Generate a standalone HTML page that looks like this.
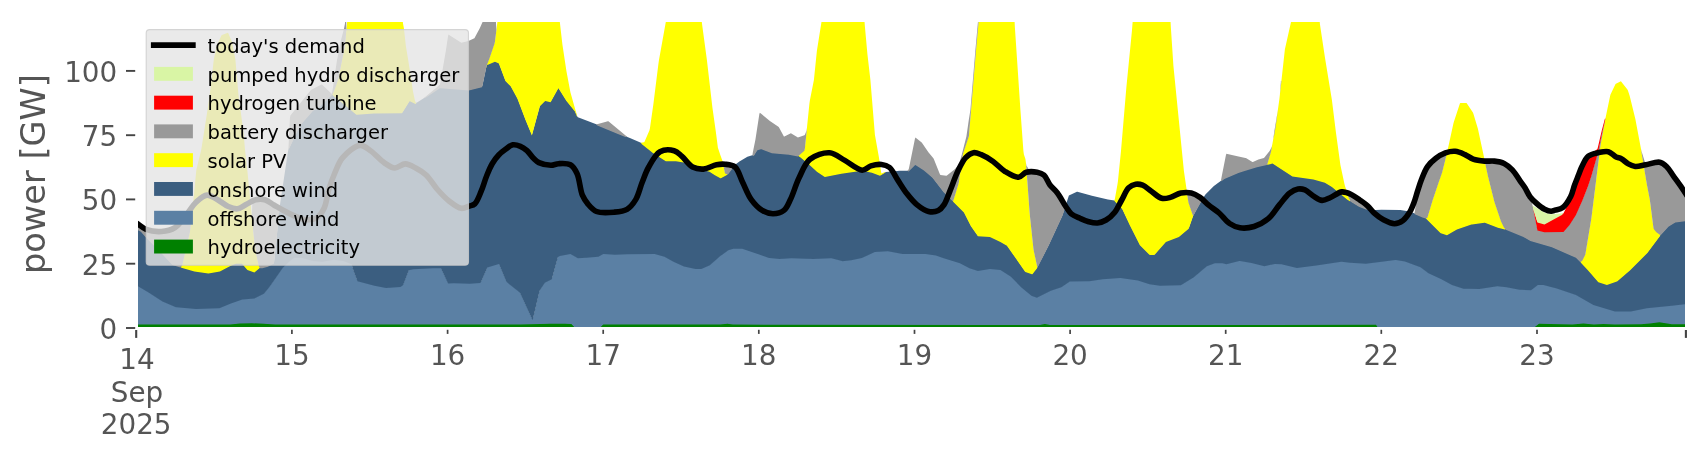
<!DOCTYPE html>
<html><head><meta charset="utf-8"><title>power</title>
<style>html,body{margin:0;padding:0;background:#fff;width:1706px;height:460px;overflow:hidden}svg{display:block;will-change:transform}</style>
</head><body>
<svg width="1706" height="460" viewBox="0 0 1706 460" font-family="'DejaVu Sans', 'Liberation Sans', sans-serif">
<defs><clipPath id="pa"><rect x="137.9" y="21.9" width="1547.2" height="305.05"/></clipPath></defs>
<rect width="1706" height="460" fill="#ffffff"/>
<g clip-path="url(#pa)">
<g fill="#008000"><polygon points="137.40,323.80 229.90,323.70 239.90,322.81 251.90,322.50 263.90,322.90 275.40,323.70 519.90,323.80 549.90,323.00 564.90,322.90 571.40,323.30 575.40,327.40 575.90,327.50 575.90,327.50 137.40,327.50"/><polygon points="599.40,327.50 599.90,327.18 602.90,324.01 603.40,323.80 719.90,323.80 727.40,323.00 732.90,323.79 733.40,323.80 999.90,324.30 1039.90,324.20 1044.90,323.22 1049.90,324.18 1050.40,324.20 1119.90,324.30 1375.90,324.00 1376.40,324.56 1378.40,327.36 1378.90,327.50 1378.90,327.50 599.40,327.50"/><polygon points="1532.90,327.50 1533.40,327.34 1538.90,322.98 1539.40,322.91 1572.40,323.79 1583.40,322.71 1593.90,323.80 1603.40,323.10 1614.90,323.79 1640.90,323.50 1649.90,322.61 1659.40,321.42 1671.90,323.50 1685.60,323.50 1685.60,327.50 1532.90,327.50"/></g>
<g fill="#5b80a4"><polygon points="137.40,285.00 148.90,292.03 162.40,300.70 175.90,306.42 176.40,306.52 195.90,308.09 218.90,307.51 219.40,307.42 230.90,302.60 242.40,298.80 242.90,298.68 254.40,297.70 263.90,292.95 264.40,292.56 269.90,285.82 282.90,266.85 289.90,260.10 293.90,257.15 294.40,257.00 301.40,257.03 312.90,260.17 321.90,260.88 322.40,260.87 333.90,258.90 342.90,260.17 343.40,260.32 351.40,263.46 351.90,264.80 353.40,269.67 357.40,280.40 374.40,285.00 385.90,287.16 386.40,287.18 400.40,286.31 400.90,286.01 402.90,284.55 403.40,283.62 408.90,269.40 413.40,268.42 413.90,268.38 432.90,267.41 440.90,267.40 447.90,282.37 448.40,282.78 453.90,282.41 469.90,283.00 480.40,282.31 480.90,281.40 487.40,266.70 498.90,263.20 506.40,280.83 506.90,281.54 519.40,291.38 519.90,291.92 532.40,319.16 532.90,318.33 539.40,290.85 539.90,289.54 544.40,282.62 544.90,281.95 551.40,278.70 551.90,278.14 557.90,256.36 558.40,255.84 559.90,255.24 570.40,253.30 577.40,257.29 577.90,257.38 586.40,256.88 598.40,255.91 602.90,253.36 603.40,253.32 614.90,253.90 627.90,253.50 654.90,253.30 655.40,253.36 664.40,255.90 673.40,261.04 683.90,265.70 695.40,268.23 695.90,268.30 701.40,268.30 709.90,264.45 720.40,255.29 728.40,249.57 733.40,248.03 742.40,248.00 742.90,248.10 759.90,253.87 768.90,257.13 769.40,257.23 779.40,258.18 791.40,257.40 813.40,258.20 830.90,257.41 831.40,257.48 841.90,260.32 842.40,260.38 851.40,259.48 861.90,257.15 874.90,251.29 887.90,250.40 902.40,253.30 925.40,253.30 935.90,254.57 942.90,257.29 959.90,262.37 969.40,267.46 977.90,270.20 989.90,268.12 1000.40,269.09 1010.90,276.03 1021.40,286.58 1031.40,294.87 1031.90,295.23 1036.90,296.97 1037.40,296.80 1050.90,290.00 1061.40,286.43 1069.90,280.67 1070.40,280.60 1089.40,280.57 1102.90,278.52 1120.40,277.11 1137.90,279.60 1149.40,283.43 1159.90,284.99 1180.90,284.40 1193.90,276.50 1206.90,265.48 1214.90,262.40 1222.40,262.40 1226.40,263.47 1239.40,260.25 1239.90,260.25 1251.40,262.22 1264.40,265.40 1274.90,263.20 1280.90,263.48 1281.40,263.52 1296.90,267.08 1316.40,264.82 1341.40,260.91 1349.90,261.99 1365.90,262.98 1379.90,261.31 1395.40,259.14 1395.90,259.14 1404.90,260.74 1420.40,266.50 1428.40,272.45 1441.40,278.36 1451.90,284.13 1463.40,288.07 1479.40,288.27 1497.40,285.40 1506.40,286.48 1519.40,289.06 1530.90,289.39 1531.40,289.32 1537.90,284.10 1542.90,284.10 1543.40,284.19 1549.90,286.07 1555.90,287.48 1575.90,294.27 1593.40,304.09 1614.90,310.77 1630.90,310.78 1646.90,307.57 1671.90,305.01 1685.60,303.50 1685.60,324.30 1671.90,324.30 1659.40,322.22 1649.90,323.41 1640.90,324.30 1614.90,324.59 1603.40,323.90 1593.90,324.60 1583.40,323.51 1572.40,324.59 1539.40,323.71 1538.90,323.78 1533.40,328.14 1532.90,328.30 1378.90,328.30 1378.40,328.16 1376.40,325.36 1375.90,324.80 1119.90,325.10 1050.40,325.00 1049.90,324.98 1044.90,324.02 1039.90,325.00 999.90,325.10 733.40,324.60 732.90,324.59 727.40,323.80 719.90,324.60 603.40,324.60 602.90,324.81 599.90,327.98 599.40,328.30 575.90,328.30 575.40,328.20 571.40,324.10 564.90,323.70 549.90,323.80 519.90,324.60 275.40,324.50 263.90,323.70 251.90,323.30 239.90,323.61 229.90,324.50 137.40,324.60"/></g>
<g fill="#3b5e80"><polygon points="137.40,229.00 140.90,230.94 145.90,236.59 159.90,250.90 172.40,264.13 176.90,265.57 194.40,270.74 208.40,272.78 219.90,270.82 227.90,266.45 231.40,264.84 235.90,263.04 236.40,263.00 241.90,263.00 242.40,263.45 247.40,269.10 254.40,271.60 259.40,267.56 259.90,267.40 262.40,267.35 267.90,266.02 268.40,265.80 273.90,263.05 274.40,259.10 279.40,209.52 279.90,205.18 287.90,152.01 288.40,149.58 299.90,125.21 300.40,124.54 312.90,110.12 319.90,105.66 331.90,94.48 332.40,94.36 339.90,100.22 356.40,113.92 356.90,113.97 373.90,112.61 401.90,112.50 402.40,112.02 409.40,100.78 409.90,100.40 415.40,103.10 415.90,103.24 426.40,96.56 439.90,87.47 440.40,87.43 468.90,89.79 481.90,86.38 482.40,85.35 486.40,66.30 486.90,64.36 494.40,61.17 494.90,61.04 498.40,62.44 498.90,62.87 505.40,80.30 510.40,85.30 510.90,85.96 517.40,97.87 525.40,119.04 531.90,134.70 539.90,105.50 544.90,100.50 545.40,100.25 550.40,101.57 550.90,100.89 558.40,87.50 566.40,100.20 574.90,110.80 577.40,116.76 577.90,117.16 596.90,124.56 617.90,133.30 629.90,137.96 640.90,142.82 641.40,143.08 652.90,152.32 665.40,160.31 665.90,160.50 675.90,160.40 689.90,162.78 703.90,169.45 709.40,171.04 709.90,171.29 714.90,174.45 720.40,177.44 720.90,177.49 727.90,173.70 734.40,165.20 739.40,161.45 747.40,156.80 753.90,154.83 754.40,154.15 756.90,150.09 757.40,149.53 760.90,148.37 761.40,148.41 771.90,152.41 788.90,154.07 799.40,155.87 799.90,156.15 809.90,164.52 816.90,170.91 824.40,176.03 824.90,176.28 841.40,172.98 861.90,169.85 862.40,169.84 871.90,171.98 879.90,174.96 880.40,174.79 885.40,172.16 885.90,171.98 899.90,170.71 908.40,170.70 908.90,170.50 914.90,164.40 915.40,164.23 923.90,169.60 932.40,177.03 943.40,191.17 963.90,211.60 970.90,225.50 977.90,235.40 989.90,236.09 1000.40,241.25 1006.90,244.94 1024.90,270.67 1025.40,271.17 1031.90,273.49 1032.40,273.35 1037.40,267.00 1048.90,244.56 1062.40,215.20 1068.90,195.60 1076.90,191.75 1077.40,191.81 1091.90,195.65 1107.90,199.58 1114.40,200.47 1114.90,200.81 1121.90,207.99 1122.40,208.72 1129.90,224.59 1139.90,244.40 1149.40,253.90 1149.90,254.10 1154.40,254.10 1154.90,253.64 1165.90,241.10 1178.90,236.20 1188.40,228.25 1188.90,227.43 1192.90,215.99 1199.90,203.18 1204.90,195.27 1205.40,194.60 1213.90,186.10 1224.40,178.26 1238.40,172.17 1243.90,170.33 1256.90,166.43 1272.40,162.82 1272.90,163.06 1292.40,175.81 1313.40,178.59 1324.90,182.06 1331.90,186.20 1347.40,198.90 1358.40,205.81 1358.90,206.07 1369.90,210.16 1381.40,209.70 1399.90,210.00 1400.40,210.07 1407.90,211.33 1414.40,213.30 1421.90,216.47 1425.90,217.83 1426.40,218.20 1440.40,232.10 1440.90,232.34 1446.90,234.46 1447.40,234.26 1456.90,228.66 1471.40,223.80 1471.90,223.67 1484.40,222.05 1484.90,222.04 1497.90,227.02 1505.90,228.98 1523.40,236.10 1530.40,240.24 1551.90,246.44 1575.90,257.01 1576.40,257.41 1587.90,269.33 1597.90,280.95 1598.40,281.36 1606.90,284.10 1617.40,280.51 1629.90,269.69 1647.40,252.20 1660.40,234.80 1668.40,226.04 1674.90,221.89 1675.40,221.68 1685.60,220.50 1685.60,304.30 1671.90,305.81 1646.90,308.37 1630.90,311.58 1614.90,311.57 1593.40,304.89 1575.90,295.07 1555.90,288.28 1549.90,286.87 1543.40,284.99 1542.90,284.90 1537.90,284.90 1531.40,290.12 1530.90,290.19 1519.40,289.86 1506.40,287.28 1497.40,286.20 1479.40,289.07 1463.40,288.87 1451.90,284.93 1441.40,279.16 1428.40,273.25 1420.40,267.30 1404.90,261.54 1395.90,259.94 1395.40,259.94 1379.90,262.11 1365.90,263.78 1349.90,262.79 1341.40,261.71 1316.40,265.62 1296.90,267.88 1281.40,264.32 1280.90,264.28 1274.90,264.00 1264.40,266.20 1251.40,263.02 1239.90,261.05 1239.40,261.05 1226.40,264.27 1222.40,263.20 1214.90,263.20 1206.90,266.28 1193.90,277.30 1180.90,285.20 1159.90,285.79 1149.40,284.23 1137.90,280.40 1120.40,277.91 1102.90,279.32 1089.40,281.37 1070.40,281.40 1069.90,281.47 1061.40,287.23 1050.90,290.80 1037.40,297.60 1036.90,297.77 1031.90,296.03 1031.40,295.67 1021.40,287.38 1010.90,276.83 1000.40,269.89 989.90,268.92 977.90,271.00 969.40,268.26 959.90,263.17 942.90,258.09 935.90,255.38 925.40,254.10 902.40,254.10 887.90,251.20 874.90,252.09 861.90,257.95 851.40,260.28 842.40,261.18 841.90,261.12 831.40,258.28 830.90,258.21 813.40,259.00 791.40,258.20 779.40,258.98 769.40,258.03 768.90,257.93 759.90,254.67 742.90,248.90 742.40,248.80 733.40,248.83 728.40,250.37 720.40,256.09 709.90,265.25 701.40,269.10 695.90,269.10 695.40,269.03 683.90,266.50 673.40,261.84 664.40,256.70 655.40,254.16 654.90,254.10 627.90,254.30 614.90,254.70 603.40,254.12 602.90,254.16 598.40,256.71 586.40,257.68 577.90,258.18 577.40,258.09 570.40,254.10 559.90,256.04 558.40,256.64 557.90,257.16 551.90,278.94 551.40,279.50 544.90,282.75 544.40,283.42 539.90,290.34 539.40,291.65 532.90,319.13 532.40,319.96 519.90,292.72 519.40,292.18 506.90,282.34 506.40,281.63 498.90,264.00 487.40,267.50 480.90,282.20 480.40,283.11 469.90,283.80 453.90,283.21 448.40,283.58 447.90,283.17 440.90,268.20 432.90,268.21 413.90,269.18 413.40,269.22 408.90,270.20 403.40,284.42 402.90,285.35 400.90,286.81 400.40,287.11 386.40,287.98 385.90,287.96 374.40,285.80 357.40,281.20 353.40,270.47 351.90,265.60 351.40,264.26 343.40,261.12 342.90,260.97 333.90,259.70 322.40,261.67 321.90,261.68 312.90,260.97 301.40,257.83 294.40,257.80 293.90,257.95 289.90,260.90 282.90,267.65 269.90,286.62 264.40,293.36 263.90,293.75 254.40,298.50 242.90,299.48 242.40,299.60 230.90,303.40 219.40,308.22 218.90,308.31 195.90,308.89 176.40,307.32 175.90,307.22 162.40,301.50 148.90,292.83 137.40,285.80"/></g>
<g fill="#ffff00"><polygon points="180.40,266.60 181.90,265.27 182.40,264.11 185.90,248.45 189.90,231.42 192.90,205.87 195.90,174.24 196.40,169.59 200.90,151.22 201.40,148.73 207.90,107.60 210.90,85.73 213.40,62.78 213.90,59.09 216.90,45.45 217.40,44.13 221.40,35.42 221.90,35.04 227.90,32.64 228.40,33.54 231.90,41.77 235.40,59.49 238.40,94.30 243.40,131.85 243.90,136.55 244.90,148.78 247.40,171.01 253.90,236.96 254.40,241.30 256.40,254.35 258.90,265.56 259.40,266.53 259.90,267.20 260.40,267.40 260.40,267.40 259.90,267.60 259.40,268.36 254.40,272.40 247.40,269.90 242.40,264.25 241.90,263.80 235.90,263.84 230.90,265.85 227.90,267.25 219.90,271.62 208.40,273.58 194.40,271.54 181.40,267.70 180.90,267.32 180.40,266.60"/><polygon points="330.90,95.41 331.40,94.83 331.90,94.48 331.90,94.48 331.40,95.06 330.90,95.41"/><polygon points="331.90,94.48 332.40,94.04 334.90,88.23 337.90,79.48 338.40,77.81 344.90,45.50 346.40,29.19 346.90,25.11 347.40,18.48 347.90,5.00 402.40,5.00 402.90,22.90 403.90,28.17 405.90,46.20 408.40,61.28 411.40,80.51 412.90,90.88 414.90,100.52 415.40,101.80 415.90,102.80 416.40,102.92 416.40,102.92 415.90,103.67 415.40,103.90 409.90,101.20 409.40,101.58 402.40,112.82 401.90,113.30 373.90,113.41 356.90,114.77 356.40,114.72 339.90,101.02 332.90,95.55 332.40,94.68 331.90,94.48"/><polygon points="485.90,68.68 486.40,65.20 486.90,64.16 489.40,58.04 494.40,43.10 494.90,41.13 497.40,22.00 497.90,7.83 498.40,5.00 559.40,5.00 559.90,22.87 562.40,44.50 566.40,71.00 570.40,92.30 574.90,108.20 577.40,116.66 577.90,117.16 577.90,117.16 577.40,116.86 576.90,116.17 576.40,115.18 574.90,111.60 566.40,101.00 558.40,88.30 550.90,101.69 550.40,102.37 545.40,101.05 544.90,101.30 539.90,106.30 531.90,135.50 525.40,119.84 517.40,98.67 510.90,86.76 510.40,86.10 505.40,81.10 498.90,63.67 498.40,63.24 494.90,61.84 494.40,61.97 487.40,64.95 486.90,64.56 486.40,67.10 485.90,68.68"/><polygon points="640.90,142.82 643.90,142.37 644.40,142.07 649.40,130.49 649.90,128.41 653.40,103.90 658.40,63.99 658.90,60.49 665.90,21.50 666.40,7.75 666.90,5.00 700.90,5.00 701.90,22.99 706.90,60.11 712.40,107.46 715.90,132.29 717.90,147.70 720.40,155.20 722.40,160.75 722.90,162.74 724.90,172.32 725.40,172.92 727.90,173.70 727.90,173.70 726.90,175.04 720.90,178.29 720.40,178.24 714.90,175.25 709.90,172.09 709.40,171.84 703.90,170.25 689.90,163.58 675.90,161.20 665.90,161.30 665.40,161.11 652.90,153.12 641.90,144.27 641.40,143.39 640.90,142.82"/><polygon points="797.90,155.61 798.40,155.28 804.40,149.87 804.90,147.64 809.40,103.66 809.90,100.19 813.90,80.00 816.90,50.77 821.40,22.62 822.40,6.70 822.90,5.00 863.40,5.00 863.90,11.80 864.40,20.30 864.90,26.40 867.40,53.90 870.40,80.00 874.90,134.86 878.90,157.18 880.90,170.74 881.40,173.46 884.90,172.04 885.40,172.16 885.40,172.16 884.90,172.80 881.40,175.06 880.40,175.59 879.90,175.76 871.90,172.78 862.40,170.64 861.90,170.65 841.40,173.78 824.90,177.08 824.40,176.83 816.90,171.71 809.90,165.32 799.90,156.95 799.40,156.67 798.90,156.58 797.90,155.61"/><polygon points="952.40,200.20 952.90,200.15 953.40,199.68 958.40,183.57 958.90,181.19 962.40,156.52 962.90,153.40 968.90,135.50 975.90,51.18 978.40,23.69 978.90,9.13 979.40,5.00 1013.90,5.00 1014.40,18.20 1014.90,27.38 1020.40,109.68 1023.40,150.96 1023.90,154.60 1025.40,159.10 1025.90,162.42 1026.90,174.49 1029.40,209.39 1029.90,215.02 1033.40,247.86 1033.90,250.67 1037.40,267.00 1037.40,267.00 1036.90,268.43 1032.40,274.15 1031.90,274.29 1025.40,271.97 1024.90,271.47 1006.90,245.74 1000.40,242.05 989.90,236.89 977.90,236.20 970.90,226.30 963.90,212.40 953.40,201.99 952.90,201.23 952.40,200.20"/><polygon points="1114.40,200.47 1114.90,198.82 1117.40,184.84 1117.90,181.61 1120.90,151.98 1126.40,86.98 1131.90,31.15 1133.90,6.25 1134.40,5.00 1169.90,5.00 1170.40,18.60 1170.90,28.03 1173.40,65.69 1183.90,171.01 1187.90,198.57 1188.40,201.60 1191.90,211.98 1192.90,214.73 1193.40,214.97 1193.40,214.97 1192.90,216.79 1188.90,228.23 1188.40,229.05 1178.90,237.00 1165.90,241.90 1154.90,254.44 1154.40,254.90 1149.90,254.90 1149.40,254.70 1139.90,245.20 1129.90,225.39 1122.40,209.52 1121.90,208.79 1114.90,201.61 1114.40,200.47"/><polygon points="1266.90,164.10 1267.40,163.32 1270.90,151.57 1271.40,149.29 1275.40,127.59 1279.40,99.09 1284.90,49.35 1290.90,22.45 1291.90,6.70 1292.40,5.00 1318.90,5.00 1319.40,16.33 1319.90,24.00 1324.90,57.31 1331.90,100.00 1335.90,132.29 1340.40,165.00 1344.40,183.86 1344.90,185.71 1348.40,196.29 1348.90,197.63 1349.90,198.88 1350.40,200.78 1350.40,200.78 1349.90,201.27 1347.40,199.70 1331.90,187.00 1324.90,182.86 1313.40,179.39 1292.40,176.61 1272.90,163.86 1272.40,163.62 1267.90,164.67 1267.40,164.65 1266.90,164.10"/><polygon points="1424.90,217.50 1425.40,217.59 1427.40,217.00 1432.90,198.71 1438.90,180.89 1441.90,172.35 1442.40,170.70 1448.40,146.60 1453.40,123.53 1453.90,121.70 1459.90,103.60 1460.40,103.00 1466.40,103.00 1466.90,103.45 1472.90,112.50 1473.40,113.80 1477.90,128.77 1487.90,175.20 1494.40,201.20 1500.90,220.40 1503.90,226.59 1504.40,227.32 1505.90,228.89 1506.40,229.16 1506.40,229.16 1505.90,229.06 1504.90,229.53 1497.90,227.82 1484.90,222.84 1484.40,222.85 1471.90,224.47 1471.40,224.60 1456.90,229.46 1447.40,235.06 1446.90,235.26 1440.90,233.14 1440.40,232.90 1426.40,219.00 1425.90,218.23 1425.40,217.75 1424.90,217.50"/><polygon points="1580.40,261.55 1581.90,260.27 1582.40,259.61 1584.90,254.77 1585.40,253.40 1591.40,217.50 1600.40,145.21 1604.90,121.06 1609.90,96.92 1610.40,94.79 1615.40,84.32 1615.90,83.75 1620.90,81.30 1627.40,89.43 1627.90,90.40 1629.40,94.90 1629.90,96.82 1635.40,119.23 1640.90,148.41 1646.90,184.01 1649.90,199.49 1653.40,227.01 1653.90,228.34 1655.90,231.03 1656.40,231.52 1660.40,234.50 1660.90,234.25 1660.90,234.25 1660.40,235.10 1659.90,236.27 1647.40,253.00 1629.90,270.49 1617.40,281.31 1616.90,281.53 1606.90,284.90 1598.40,282.16 1597.90,281.75 1587.90,270.13 1580.90,262.87 1580.40,261.55"/></g>
<g fill="#999999"><polygon points="137.40,223.60 145.90,229.17 146.40,229.34 160.90,231.44 161.40,231.47 174.90,227.63 175.40,227.16 185.90,215.44 192.40,207.04 192.90,205.87 192.90,205.87 192.40,211.00 189.90,232.22 185.90,249.25 182.40,264.91 181.90,266.07 180.40,267.40 172.40,264.93 159.90,251.70 145.90,237.39 140.90,231.74 137.40,229.80"/><polygon points="251.90,216.67 252.40,201.75 255.40,199.89 255.90,199.70 264.40,199.70 264.90,199.76 279.40,208.17 279.90,205.18 279.90,205.18 276.90,235.50 274.40,259.90 273.90,263.85 267.90,266.82 262.40,268.15 260.40,268.20 259.90,268.00 259.40,267.33 258.90,266.36 256.40,255.15 254.40,242.10 253.90,237.76 252.40,222.54 251.90,216.67"/><polygon points="288.40,149.58 289.90,118.10 290.40,115.50 310.90,90.12 311.40,89.79 321.40,84.46 321.90,84.49 331.90,93.91 332.40,91.28 336.90,60.68 340.90,40.50 343.90,29.08 344.90,23.96 345.40,19.44 345.90,7.41 346.40,29.19 346.40,29.19 345.40,41.18 344.90,46.30 338.40,78.61 337.90,80.28 334.90,89.03 332.40,94.84 331.90,95.05 330.90,96.21 319.90,106.46 312.90,110.92 300.40,125.34 299.90,126.01 288.90,149.32 288.40,149.58"/><polygon points="415.90,102.79 416.90,102.55 417.40,102.28 417.40,102.28 416.90,102.65 416.40,103.17 415.90,102.81"/><polygon points="423.40,98.47 439.90,84.68 440.40,82.29 445.90,50.58 447.90,37.11 448.40,34.46 460.90,42.54 461.40,42.77 468.40,40.93 474.40,38.30 479.90,27.99 482.90,21.23 483.40,17.80 484.90,5.80 485.40,5.00 494.90,5.00 496.40,29.65 496.40,29.65 495.90,34.28 494.90,41.93 494.40,43.90 489.40,58.84 486.90,64.96 486.40,66.00 485.90,69.48 482.40,86.15 481.90,87.18 468.90,90.59 440.40,88.23 439.90,88.27 427.90,96.36 426.40,97.15 423.40,98.47"/><polygon points="595.90,124.17 596.40,124.17 597.90,123.90 607.90,121.21 608.40,121.18 627.40,136.99 627.40,136.99 625.40,137.01 617.90,134.10 597.90,125.77 597.40,125.54 595.90,124.17"/><polygon points="723.40,165.13 723.90,165.29 728.40,165.98 731.90,168.43 732.40,167.82 732.40,167.82 731.90,168.51 731.40,169.92 727.90,174.50 725.40,173.72 724.90,173.12 723.90,168.33 723.40,165.13"/><polygon points="752.40,155.28 752.90,152.03 755.40,139.75 759.40,113.70 759.90,112.65 769.90,120.92 778.40,126.79 778.90,127.37 783.90,136.52 784.40,136.50 790.90,133.30 797.90,137.40 804.40,135.14 804.90,134.75 806.40,131.02 806.90,128.09 806.90,128.09 806.40,133.78 804.90,148.44 804.40,150.67 798.40,156.08 797.90,156.41 788.90,154.87 771.90,153.21 761.40,149.21 760.90,149.17 757.40,150.33 756.90,150.89 754.40,154.95 753.90,155.63 752.90,155.93 752.40,155.28"/><polygon points="907.40,170.70 908.40,169.87 908.90,168.61 914.90,138.89 915.40,137.55 921.40,142.17 921.90,142.70 928.40,152.32 933.40,158.34 933.90,159.20 939.90,174.25 940.40,175.02 946.40,175.67 946.90,175.54 954.40,169.50 958.40,165.50 958.90,164.52 961.90,154.34 966.40,136.40 968.90,119.37 970.40,110.00 975.40,50.00 977.90,22.60 978.40,5.00 978.90,9.13 978.90,9.13 978.40,24.49 975.90,51.98 968.90,136.30 962.90,154.20 962.40,157.32 958.90,181.99 958.40,184.37 953.40,200.48 952.90,200.95 952.40,201.00 943.90,192.50 943.40,191.97 932.40,177.83 923.90,170.40 915.40,165.03 914.90,165.20 908.90,171.30 908.40,171.50 907.40,170.70"/><polygon points="1025.90,162.42 1026.40,165.49 1029.40,170.19 1029.90,170.57 1036.90,172.25 1043.90,175.16 1044.40,175.85 1049.90,184.84 1057.40,193.00 1065.40,205.87 1065.90,204.65 1065.90,204.65 1064.90,208.46 1062.40,216.00 1048.90,245.36 1037.40,267.80 1033.90,251.47 1033.40,248.66 1029.90,215.82 1029.40,210.19 1027.40,182.12 1025.90,162.42"/><polygon points="1186.90,191.76 1187.40,192.47 1191.40,193.05 1202.40,198.65 1202.90,198.43 1202.90,198.43 1202.40,199.78 1201.90,200.80 1199.90,203.98 1193.40,215.77 1192.90,215.53 1191.90,212.78 1188.40,202.40 1187.40,195.97 1186.90,191.76"/><polygon points="1220.90,180.85 1221.40,177.98 1225.90,155.22 1226.40,153.75 1237.40,156.25 1245.40,157.94 1245.90,158.12 1252.40,162.02 1252.90,162.10 1258.40,159.40 1263.90,158.02 1264.40,157.50 1269.40,151.27 1269.90,150.49 1271.90,146.42 1272.40,143.90 1272.40,143.90 1271.40,150.09 1270.90,152.37 1267.40,164.12 1266.90,164.90 1256.90,167.23 1243.90,171.13 1238.40,172.97 1224.40,179.06 1221.40,181.27 1220.90,180.85"/><polygon points="1272.90,141.21 1273.40,138.36 1274.40,130.76 1277.90,109.90 1277.90,109.90 1276.90,117.78 1275.40,128.39 1273.90,136.63 1273.40,138.69 1272.90,141.21"/><polygon points="1279.90,94.52 1280.90,81.43 1281.40,80.83 1281.40,80.83 1280.90,86.20 1279.90,94.52"/><polygon points="1346.40,190.24 1346.90,190.96 1352.90,197.39 1353.40,197.83 1361.90,204.83 1366.90,208.58 1368.90,209.79 1368.90,209.79 1367.40,209.55 1365.90,209.48 1358.90,206.87 1350.40,201.58 1349.90,199.68 1348.90,198.43 1348.40,197.09 1346.90,192.55 1346.40,190.24"/><polygon points="1414.40,213.30 1414.90,211.28 1417.40,191.70 1421.40,179.78 1427.40,166.82 1427.90,166.20 1435.40,158.70 1435.90,158.33 1445.40,152.90 1446.90,152.63 1446.90,152.63 1446.40,155.44 1442.40,171.50 1441.90,173.15 1438.90,181.69 1432.90,199.51 1427.40,217.80 1425.40,218.39 1424.90,218.30 1422.40,217.47 1414.90,214.31 1414.40,213.30"/><polygon points="1484.40,158.98 1484.90,161.10 1494.40,161.12 1503.90,163.35 1504.40,163.64 1512.40,170.04 1524.90,187.66 1529.90,196.47 1530.40,197.70 1532.90,206.61 1537.40,229.60 1544.40,231.45 1544.90,231.49 1563.40,231.10 1563.90,230.65 1569.40,224.44 1575.90,214.10 1582.40,199.80 1587.40,187.20 1591.40,175.30 1597.90,152.35 1602.40,131.00 1605.40,118.56 1605.40,118.56 1604.40,124.51 1600.40,146.01 1591.40,218.30 1585.40,254.20 1584.90,255.57 1582.40,260.41 1581.90,261.07 1580.40,262.35 1576.40,258.21 1575.90,257.81 1551.90,247.24 1530.40,241.04 1523.40,236.90 1506.40,229.96 1505.90,229.69 1504.40,228.12 1503.90,227.39 1500.90,221.20 1494.40,202.00 1487.90,176.00 1485.40,164.43 1484.40,158.98"/><polygon points="1640.90,148.41 1641.40,150.66 1645.40,163.81 1645.90,164.76 1659.40,162.24 1659.90,162.39 1666.40,166.44 1673.40,175.96 1680.40,185.70 1685.60,193.50 1685.60,221.30 1675.40,222.48 1674.90,222.69 1668.40,226.84 1660.90,235.05 1660.40,235.30 1656.40,232.32 1655.90,231.83 1653.90,229.14 1653.40,227.81 1649.90,200.29 1646.90,184.81 1641.90,154.98 1640.90,148.41"/></g>
<g fill="#ff0000"><polygon points="1532.90,206.61 1533.40,208.88 1537.40,221.70 1544.40,223.64 1544.90,223.53 1563.40,213.36 1563.90,212.47 1567.90,204.21 1571.90,194.25 1575.90,182.30 1579.90,171.27 1584.90,161.20 1590.90,154.12 1597.40,149.08 1597.90,147.27 1601.90,129.93 1604.90,118.87 1605.40,118.56 1605.40,118.56 1604.90,121.22 1602.40,131.80 1597.90,153.15 1591.40,176.10 1587.90,186.60 1582.40,200.60 1575.90,214.90 1569.40,225.24 1568.90,225.85 1563.90,231.45 1563.40,231.90 1544.90,232.29 1544.40,232.25 1537.40,230.40 1533.90,212.52 1532.90,206.61"/></g>
<g fill="#d9f5a5"><polygon points="1532.40,204.70 1532.90,206.04 1533.40,206.09 1533.90,206.33 1544.40,212.48 1544.90,212.68 1550.90,214.18 1563.40,213.31 1563.90,212.47 1563.90,212.47 1563.40,213.40 1561.90,214.95 1561.40,215.26 1544.90,224.33 1544.40,224.44 1537.40,222.50 1533.40,209.68 1532.40,204.70"/></g>
<path d="M137.40,223.60 C140.30,225.50 142.63,227.99 146.10,229.30 C150.32,230.90 156.40,231.83 161.30,231.50 C166.02,231.18 171.02,230.09 175.00,227.60 C179.22,224.97 182.22,219.87 185.70,215.70 C189.32,211.36 192.43,205.55 196.30,202.00 C199.62,198.95 203.36,195.40 207.00,195.10 C210.47,194.82 214.13,197.86 217.60,199.70 C221.24,201.63 224.76,204.97 228.30,206.50 C231.35,207.81 234.43,209.13 237.40,208.80 C240.50,208.46 243.45,205.72 246.50,204.20 C249.55,202.68 252.56,200.43 255.70,199.70 C258.66,199.01 261.87,198.91 264.80,199.70 C267.95,200.55 270.86,203.24 273.90,205.00 C276.96,206.77 280.02,208.64 283.10,210.30 C286.12,211.93 288.90,213.45 292.20,214.90 C295.93,216.54 300.27,219.02 304.40,219.50 C308.41,219.96 313.31,219.80 316.60,217.90 C319.92,215.99 322.26,212.04 324.20,208.00 C326.58,203.05 326.91,195.70 328.70,189.80 C330.45,184.04 332.44,178.41 334.80,173.00 C337.12,167.68 338.84,162.04 342.70,157.60 C346.97,152.69 354.85,145.78 360.00,145.40 C363.84,145.12 366.91,148.29 370.50,150.70 C374.99,153.72 379.92,159.80 384.40,162.80 C387.96,165.18 391.29,167.84 394.80,168.00 C398.26,168.16 401.81,163.89 405.30,163.90 C408.78,163.91 412.33,166.23 415.70,168.00 C419.27,169.88 422.82,171.94 426.10,175.00 C430.00,178.64 433.14,184.62 437.00,189.00 C440.78,193.28 444.76,197.70 449.00,201.00 C452.90,204.03 457.54,207.79 461.30,208.30 C464.16,208.68 466.90,206.91 469.30,206.10 C471.33,205.42 473.14,205.43 474.80,203.90 C477.40,201.51 479.36,195.47 481.30,190.90 C483.35,186.09 484.78,180.43 486.70,175.70 C488.44,171.42 490.08,167.28 492.20,163.70 C494.13,160.45 496.38,157.44 498.70,155.00 C500.75,152.84 502.89,151.28 505.20,149.60 C507.58,147.87 510.17,145.29 512.80,144.80 C515.25,144.34 518.05,145.33 520.40,146.30 C522.78,147.28 524.93,148.86 527.00,150.70 C529.33,152.76 531.33,156.21 533.50,158.30 C535.30,160.04 536.59,161.50 538.90,162.60 C541.99,164.06 547.35,165.17 550.90,165.20 C553.72,165.23 555.67,163.85 558.50,163.70 C562.01,163.52 567.28,163.07 570.40,164.80 C573.38,166.45 575.19,169.71 577.00,173.50 C579.59,178.92 580.09,189.72 582.40,195.20 C583.97,198.91 585.55,201.25 587.80,203.90 C590.19,206.72 592.78,210.02 596.50,211.50 C601.07,213.32 608.54,212.68 613.90,212.20 C618.61,211.78 623.35,211.43 627.00,209.30 C630.60,207.20 633.29,203.57 635.70,199.60 C638.57,194.86 639.97,187.78 642.20,182.20 C644.31,176.94 645.88,171.92 648.70,167.00 C651.72,161.73 655.33,154.27 660.00,151.70 C664.03,149.49 670.27,149.63 674.10,150.70 C677.21,151.57 679.04,153.85 681.70,156.10 C685.12,158.99 688.62,164.89 692.60,167.00 C695.98,168.79 699.74,169.34 703.50,169.10 C707.68,168.83 712.56,165.55 716.50,164.80 C719.65,164.20 722.24,163.99 725.20,164.30 C728.40,164.64 732.30,164.78 735.00,167.00 C738.49,169.87 739.98,176.96 742.60,182.20 C745.40,187.80 747.77,194.72 751.30,199.60 C754.44,203.93 758.26,208.05 762.20,210.40 C765.58,212.42 769.39,213.70 773.00,213.70 C776.62,213.70 781.03,212.63 783.90,210.40 C786.92,208.05 788.25,203.93 790.40,199.60 C793.33,193.69 795.74,184.65 799.10,177.80 C802.31,171.25 804.84,163.47 810.00,159.30 C815.06,155.21 823.56,152.37 829.60,152.80 C835.08,153.19 839.60,157.64 844.80,160.40 C850.44,163.40 857.37,170.07 862.20,170.20 C865.57,170.29 867.77,166.85 870.90,165.90 C874.18,164.90 878.27,164.14 881.50,164.50 C884.37,164.82 887.04,165.54 889.40,167.40 C892.45,169.81 894.45,174.98 897.20,179.10 C900.28,183.72 903.56,189.39 907.00,193.80 C910.12,197.81 913.14,201.64 916.80,204.60 C920.33,207.46 924.64,210.55 928.50,211.40 C931.79,212.13 935.64,211.76 938.30,210.50 C940.74,209.34 942.37,207.18 944.10,204.60 C946.43,201.14 947.93,195.89 950.00,190.90 C952.46,184.97 954.96,177.16 957.80,171.30 C960.26,166.23 962.63,160.79 965.70,157.60 C968.04,155.17 970.81,153.12 973.50,152.70 C976.02,152.31 978.52,153.57 981.30,154.70 C984.92,156.18 989.29,158.84 993.10,161.50 C997.14,164.32 1000.54,168.68 1004.80,171.30 C1009.01,173.89 1014.64,177.50 1018.50,177.20 C1021.54,176.97 1023.35,173.15 1026.30,172.30 C1029.49,171.38 1033.96,171.67 1037.10,172.30 C1039.72,172.83 1042.01,173.49 1044.00,175.20 C1046.47,177.32 1047.73,182.00 1050.00,185.00 C1052.21,187.92 1054.98,189.83 1057.40,193.00 C1060.37,196.90 1063.49,203.20 1066.10,207.00 C1067.99,209.75 1069.08,212.05 1071.30,213.90 C1073.65,215.87 1077.07,216.99 1080.00,218.30 C1082.87,219.58 1085.76,220.92 1088.70,221.70 C1091.56,222.46 1094.53,223.26 1097.40,223.00 C1100.33,222.73 1103.35,221.61 1106.10,220.00 C1109.19,218.18 1112.28,215.33 1114.80,212.20 C1117.56,208.77 1119.39,204.06 1121.70,200.00 C1124.02,195.93 1125.91,190.43 1128.70,187.80 C1130.78,185.84 1133.31,184.70 1135.70,184.30 C1137.95,183.92 1140.28,184.30 1142.60,185.20 C1145.47,186.31 1148.26,189.21 1151.30,191.30 C1154.60,193.57 1158.23,197.43 1161.70,198.30 C1164.60,199.02 1167.42,198.16 1170.40,197.40 C1173.80,196.53 1177.34,193.72 1180.90,193.00 C1184.31,192.31 1188.07,192.23 1191.30,193.00 C1194.42,193.75 1197.22,195.50 1200.00,197.40 C1203.04,199.48 1205.61,202.67 1208.70,205.20 C1211.96,207.87 1215.73,210.07 1219.10,213.00 C1222.71,216.13 1225.84,220.99 1229.60,223.50 C1232.87,225.68 1236.19,227.22 1240.00,227.80 C1244.27,228.45 1249.53,227.90 1254.10,226.50 C1258.99,225.00 1264.13,222.20 1268.30,218.70 C1272.70,215.00 1275.91,209.00 1279.60,204.60 C1282.96,200.59 1286.06,195.97 1289.50,193.30 C1292.24,191.17 1295.23,189.48 1298.00,189.00 C1300.38,188.59 1302.67,188.97 1305.00,189.90 C1307.84,191.03 1310.59,194.32 1313.50,196.10 C1316.27,197.79 1319.12,200.20 1322.00,200.40 C1324.79,200.60 1327.51,198.75 1330.50,197.50 C1334.04,196.02 1338.09,192.24 1341.80,191.90 C1345.15,191.59 1348.65,193.30 1351.70,194.70 C1354.70,196.08 1357.31,198.29 1360.00,200.20 C1362.67,202.09 1365.41,203.92 1367.80,206.10 C1370.17,208.26 1371.82,211.00 1374.30,213.20 C1376.99,215.59 1380.16,218.06 1383.50,219.80 C1386.89,221.57 1391.08,223.75 1394.50,223.70 C1397.52,223.66 1400.55,222.16 1403.00,220.40 C1405.59,218.54 1407.68,215.53 1409.50,212.60 C1411.42,209.50 1412.78,205.71 1414.10,202.20 C1415.40,198.74 1416.24,195.29 1417.40,191.70 C1418.63,187.90 1419.72,183.99 1421.30,180.00 C1423.03,175.64 1424.90,170.32 1427.50,166.60 C1429.79,163.32 1432.60,160.79 1435.60,158.50 C1438.57,156.23 1442.02,154.10 1445.40,152.90 C1448.57,151.78 1451.97,151.04 1455.20,151.30 C1458.50,151.57 1461.95,153.25 1465.00,154.60 C1467.89,155.88 1470.06,158.03 1473.10,159.10 C1476.51,160.30 1480.92,160.78 1484.60,161.10 C1487.96,161.39 1491.08,160.73 1494.30,161.10 C1497.58,161.48 1501.12,161.96 1504.10,163.40 C1507.13,164.87 1509.75,167.21 1512.30,169.90 C1515.25,173.01 1518.08,178.03 1520.40,181.30 C1522.15,183.77 1523.48,185.40 1525.00,187.80 C1526.75,190.56 1528.16,194.32 1530.20,197.00 C1532.10,199.50 1534.34,201.48 1536.70,203.50 C1539.13,205.59 1541.98,207.98 1544.60,209.30 C1546.78,210.40 1549.21,211.28 1551.10,211.30 C1552.56,211.32 1553.49,210.68 1555.00,210.20 C1557.16,209.52 1560.44,209.26 1562.80,207.50 C1565.82,205.25 1568.71,200.36 1570.70,196.50 C1572.58,192.84 1573.26,188.68 1574.60,185.00 C1575.86,181.54 1577.26,178.15 1578.50,175.00 C1579.61,172.18 1580.30,169.81 1581.70,167.00 C1583.40,163.58 1585.30,158.50 1588.30,156.10 C1591.08,153.87 1595.26,153.33 1598.70,152.60 C1601.92,151.92 1605.39,150.95 1608.30,151.70 C1611.18,152.44 1613.68,155.81 1616.10,157.00 C1617.94,157.90 1619.52,157.78 1621.30,158.70 C1623.55,159.87 1625.88,162.58 1628.30,163.90 C1630.53,165.12 1632.62,166.24 1635.20,166.50 C1638.30,166.81 1641.96,165.45 1645.70,164.80 C1650.01,164.05 1655.88,161.50 1659.60,162.20 C1662.42,162.73 1664.37,164.52 1666.50,166.50 C1669.08,168.90 1671.18,172.90 1673.50,176.10 C1675.81,179.30 1678.29,182.65 1680.40,185.70 C1682.28,188.42 1683.87,190.90 1685.60,193.50" fill="none" stroke="#000000" stroke-width="5.6" stroke-linejoin="round" stroke-linecap="square"/>
</g>
<line x1="126" y1="328.0" x2="135.2" y2="328.0" stroke="#444444" stroke-width="1.9"/><text x="117.2" y="339.0" text-anchor="end" font-size="27.8" fill="#555555">0</text><line x1="126" y1="263.7" x2="135.2" y2="263.7" stroke="#444444" stroke-width="1.9"/><text x="117.2" y="274.7" text-anchor="end" font-size="27.8" fill="#555555">25</text><line x1="126" y1="199.4" x2="135.2" y2="199.4" stroke="#444444" stroke-width="1.9"/><text x="117.2" y="210.4" text-anchor="end" font-size="27.8" fill="#555555">50</text><line x1="126" y1="135.2" x2="135.2" y2="135.2" stroke="#444444" stroke-width="1.9"/><text x="117.2" y="146.2" text-anchor="end" font-size="27.8" fill="#555555">75</text><line x1="126" y1="70.9" x2="135.2" y2="70.9" stroke="#444444" stroke-width="1.9"/><text x="117.2" y="81.9" text-anchor="end" font-size="27.8" fill="#555555">100</text>
<line x1="291.9" y1="329.8" x2="291.9" y2="333.9" stroke="#444444" stroke-width="1.7"/><text x="291.9" y="365" text-anchor="middle" font-size="27.8" fill="#555555">15</text><line x1="447.6" y1="329.8" x2="447.6" y2="333.9" stroke="#444444" stroke-width="1.7"/><text x="447.6" y="365" text-anchor="middle" font-size="27.8" fill="#555555">16</text><line x1="603.2" y1="329.8" x2="603.2" y2="333.9" stroke="#444444" stroke-width="1.7"/><text x="603.2" y="365" text-anchor="middle" font-size="27.8" fill="#555555">17</text><line x1="758.8" y1="329.8" x2="758.8" y2="333.9" stroke="#444444" stroke-width="1.7"/><text x="758.8" y="365" text-anchor="middle" font-size="27.8" fill="#555555">18</text><line x1="914.5" y1="329.8" x2="914.5" y2="333.9" stroke="#444444" stroke-width="1.7"/><text x="914.5" y="365" text-anchor="middle" font-size="27.8" fill="#555555">19</text><line x1="1070.1" y1="329.8" x2="1070.1" y2="333.9" stroke="#444444" stroke-width="1.7"/><text x="1070.1" y="365" text-anchor="middle" font-size="27.8" fill="#555555">20</text><line x1="1225.7" y1="329.8" x2="1225.7" y2="333.9" stroke="#444444" stroke-width="1.7"/><text x="1225.7" y="365" text-anchor="middle" font-size="27.8" fill="#555555">21</text><line x1="1381.3" y1="329.8" x2="1381.3" y2="333.9" stroke="#444444" stroke-width="1.7"/><text x="1381.3" y="365" text-anchor="middle" font-size="27.8" fill="#555555">22</text><line x1="1537.0" y1="329.8" x2="1537.0" y2="333.9" stroke="#444444" stroke-width="1.7"/><text x="1537.0" y="365" text-anchor="middle" font-size="27.8" fill="#555555">23</text><line x1="136.2" y1="330" x2="136.2" y2="337.9" stroke="#444444" stroke-width="2.1"/><line x1="1685.9" y1="330" x2="1685.9" y2="337.9" stroke="#444444" stroke-width="2.1"/><text x="137" y="369.2" text-anchor="middle" font-size="27.8" fill="#555555">14</text><text x="137" y="401.8" text-anchor="middle" font-size="27.8" fill="#555555">Sep</text><text x="136.2" y="434" text-anchor="middle" font-size="27.8" fill="#555555">2025</text>
<text transform="translate(44.8,174.1) rotate(-90)" text-anchor="middle" font-size="33.6" fill="#555555">power [GW]</text>
<rect x="146.2" y="29.6" width="322.3" height="235.70000000000002" rx="3.5" ry="3.5" fill="#e5e5e5" fill-opacity="0.8" stroke="#cccccc" stroke-opacity="0.8" stroke-width="1.1"/><line x1="153.7" y1="45.1" x2="192.9" y2="45.1" stroke="#000000" stroke-width="5.6" stroke-linecap="square"/><text x="207.6" y="52.8" font-size="19.5" fill="#000">today&#39;s demand</text><rect x="154.1" y="66.9" width="38.8" height="13.9" fill="#d9f5a5"/><text x="207.6" y="81.6" font-size="19.5" fill="#000">pumped hydro discharger</text><rect x="154.1" y="95.7" width="38.8" height="13.9" fill="#ff0000"/><text x="207.6" y="110.4" font-size="19.5" fill="#000">hydrogen turbine</text><rect x="154.1" y="124.4" width="38.8" height="13.9" fill="#999999"/><text x="207.6" y="139.1" font-size="19.5" fill="#000">battery discharger</text><rect x="154.1" y="153.2" width="38.8" height="13.9" fill="#ffff00"/><text x="207.6" y="167.9" font-size="19.5" fill="#000">solar PV</text><rect x="154.1" y="182.0" width="38.8" height="13.9" fill="#3b5e80"/><text x="207.6" y="196.7" font-size="19.5" fill="#000">onshore wind</text><rect x="154.1" y="210.8" width="38.8" height="13.9" fill="#5b80a4"/><text x="207.6" y="225.5" font-size="19.5" fill="#000">offshore wind</text><rect x="154.1" y="239.6" width="38.8" height="13.9" fill="#008000"/><text x="207.6" y="254.3" font-size="19.5" fill="#000">hydroelectricity</text>
</svg>
</body></html>
